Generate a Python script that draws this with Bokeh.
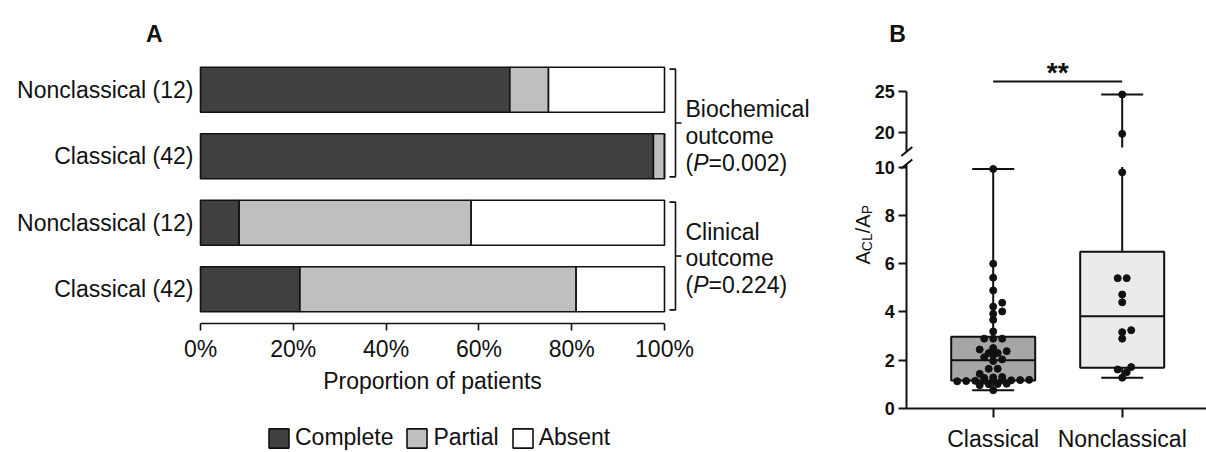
import numpy as np
from bokeh.plotting import figure
from bokeh.models import ColumnDataSource, Range1d, LinearAxis, FixedTicker, NumeralTickFormatter
from bokeh.layouts import row
from bokeh.embed import file_html
from bokeh.resources import INLINE
from bokeh.core.properties import value

# ---------------- data ----------------
# Panel A, rows listed from bottom to top
row_labels = ["Classical (42)", "Nonclassical (12)", "Classical (42)", "Nonclassical (12)"]
complete_n = [9, 1, 41, 8]
partial_n = [25, 6, 1, 1]
absent_n = [8, 5, 0, 3]
stack_names = ["Complete", "Partial", "Absent"]
outcome_words = [["Clinical", "outcome"], ["Biochemical", "outcome"]]
outcome_p = ["0.224", "0.002"]
outcome_rows = [(0, 1), (2, 3)]
pct_ticks = [0, 0.2, 0.4, 0.6, 0.8, 1.0]

# Panel B
groups = ["Classical", "Nonclassical"]
classical_vals = [9.93, 6.00, 5.42, 4.89, 4.38, 4.22, 4.02, 3.92, 3.67, 3.19,
                  2.89, 2.89, 2.89, 2.50, 2.44, 2.37, 2.29, 2.29, 2.22, 2.12, 2.03,
                  1.96, 1.64, 1.64, 1.43, 1.30, 1.28, 1.26, 1.18, 1.17, 1.16, 1.16,
                  1.15, 1.15, 1.14, 1.13, 1.12, 1.02, 1.01, 1.00, 0.96, 0.75]
nonclassical_vals = [24.6, 19.8, 9.79, 5.40, 5.40, 4.72, 4.40, 3.24, 3.16, 2.89,
                     1.71, 1.61, 1.50, 1.27]
low_ticks = [0, 2, 4, 6, 8, 10]
high_ticks = [20, 25]
signif_text = "**"

# ---------------- style ----------------
FONT = "Liberation Sans"
INK = "#111111"
FS = "23px"
bar_fills = ["#404040", "#bfbfbf", "#ffffff"]
box_fills = ["#a6a6a6", "#ebebeb"]
W_A, W_B, H = 853, 353, 452

# ================= Panel A =================
def xa(px):
    return (px - 200.0) / 464.0

def ya(py):
    return (288.8 - py) / 66.53

pA = figure(width=W_A, height=H, x_range=Range1d(xa(0), xa(W_A)),
            y_range=Range1d(ya(H), ya(0)), output_backend="svg",
            toolbar_location=None, min_border=0, y_axis_type=None)
pA.outline_line_color = None
pA.grid.visible = False

cn = np.array(complete_n, float)
pn = np.array(partial_n, float)
an = np.array(absent_n, float)
tot = cn + pn + an
srcA = ColumnDataSource(dict(pos=list(range(len(row_labels))),
                             Complete=cn / tot, Partial=pn / tot, Absent=an / tot))
pA.hbar_stack(stack_names, y="pos", height=45 / 66.53, source=srcA,
              fill_color=bar_fills, line_color=INK, line_width=1.6,
              legend_label=stack_names)

pA.text(x=[xa(193)] * len(row_labels), y=list(range(len(row_labels))), text=row_labels,
        text_align="right", text_baseline="middle", text_font=value(FONT),
        text_font_size=FS, text_color=INK)

# brackets + outcome text
first_line_py = [231.0, 108.5]
line_gap = 26.8
bx_l, bx_v, bx_r, tx = xa(669), xa(675), xa(681), xa(685)
fs_num = 23.0
for k, (lo, hi) in enumerate(outcome_rows):
    yt, yb = hi + 0.31, lo - 0.31
    ym = (yt + yb) / 2
    pA.multi_line(xs=[[bx_l, bx_v, bx_v, bx_l], [bx_v, bx_r]],
                  ys=[[yt, yt, yb, yb], [ym, ym]], line_color=INK, line_width=1.6)
    for j, w in enumerate(outcome_words[k]):
        pA.text(x=[tx], y=[ya(first_line_py[k] + j * line_gap)], text=[w],
                text_align="left", text_baseline="middle", text_font=value(FONT),
                text_font_size=FS, text_color=INK)
    yp = ya(first_line_py[k] + 2 * line_gap)
    pA.text(x=[tx], y=[yp], text=["("], text_align="left", text_baseline="middle",
            text_font=value(FONT), text_font_size=FS, text_color=INK)
    pA.text(x=[xa(685 + 0.333 * fs_num)], y=[yp], text=["P"], text_align="left",
            text_baseline="middle", text_font=value(FONT), text_font_size=FS,
            text_font_style="italic", text_color=INK)
    pA.text(x=[xa(685 + 1.0 * fs_num)], y=[yp], text=["=" + outcome_p[k] + ")"],
            text_align="left", text_baseline="middle", text_font=value(FONT),
            text_font_size=FS, text_color=INK)

pA.text(x=[xa(153.7)], y=[ya(33.3)], text=["A"], text_align="center",
        text_baseline="middle", text_font=value(FONT), text_font_size="23px",
        text_font_style="bold", text_color=INK)

xax = pA.xaxis[0]
xax.fixed_location = ya(323)
xax.bounds = (0, 1)
xax.ticker = FixedTicker(ticks=pct_ticks)
xax.formatter = NumeralTickFormatter(format="0%")
xax.minor_tick_line_color = None
xax.major_tick_in = 0
xax.major_tick_out = 7
xax.axis_line_width = 1.6
xax.major_tick_line_width = 1.6
xax.axis_line_color = INK
xax.major_tick_line_color = INK
xax.major_label_text_font = FONT
xax.major_label_text_font_size = FS
xax.major_label_text_color = INK
xax.major_label_standoff = 5
xax.axis_label = "Proportion of patients"
xax.axis_label_text_font = FONT
xax.axis_label_text_font_size = FS
xax.axis_label_text_font_style = "normal"
xax.axis_label_text_color = INK
xax.axis_label_standoff = 3

lg = pA.legend[0]
lg.location = (266, 1)
lg.orientation = "horizontal"
lg.label_text_font = FONT
lg.label_text_font_size = FS
lg.label_text_color = INK
lg.glyph_width = 25
lg.glyph_height = 24
lg.label_height = 24
lg.label_standoff = 4
lg.spacing = 11
lg.padding = 0
lg.margin = 0
lg.border_line_color = None
lg.background_fill_alpha = 0

# ================= Panel B =================
PPU_X, PPU_LOW, PPU_HIGH = 129.0, 24.1, 8.2
X0_B = W_A

def xb(px):
    return (px - 992.7) / PPU_X

def yl(py):
    return (407.8 - py) / PPU_LOW

def yh(py):
    return 20.0 + (131.7 - py) / PPU_HIGH

pB = figure(width=W_B, height=H, x_range=Range1d(xb(X0_B), xb(X0_B + W_B)),
            y_range=Range1d(yl(H), yl(0)), output_backend="svg",
            toolbar_location=None, min_border=0)
pB.extra_y_ranges = {"top": Range1d(yh(H), yh(0))}
pB.outline_line_color = None
pB.grid.visible = False

LOW_AX = yl(163.5)
TOP_AX = yh(151.0)
LOW_CLIP = yl(166.5)
TOP_CLIP = yh(147.0)
AX_X = xb(906.3)

def style_axis(ax):
    ax.axis_line_width = 2
    ax.major_tick_line_width = 2
    ax.axis_line_color = INK
    ax.major_tick_line_color = INK
    ax.minor_tick_line_color = None
    ax.major_tick_in = 0

def style_yaxis(ax):
    style_axis(ax)
    ax.fixed_location = AX_X
    ax.major_tick_out = 8
    ax.major_label_standoff = 4
    ax.major_label_text_font = FONT
    ax.major_label_text_font_size = "18px"
    ax.major_label_text_font_style = "bold"
    ax.major_label_text_color = INK

ly = pB.yaxis[0]
style_yaxis(ly)
ly.bounds = (0, LOW_AX)
ly.ticker = FixedTicker(ticks=low_ticks)

hy = LinearAxis(y_range_name="top")
style_yaxis(hy)
hy.bounds = (TOP_AX, max(high_ticks))
hy.ticker = FixedTicker(ticks=high_ticks)
pB.add_layout(hy, "left")

bx = pB.xaxis[0]
style_axis(bx)
bx.fixed_location = 0
bx.bounds = (AX_X, xb(X0_B + W_B))
bx.ticker = FixedTicker(ticks=list(range(len(groups))))
bx.major_label_overrides = {i: g for i, g in enumerate(groups)}
bx.major_tick_out = 9
bx.major_label_standoff = 9
bx.major_label_text_font = FONT
bx.major_label_text_font_size = FS
bx.major_label_text_color = INK

# axis break marks
sdx = 5.5 / PPU_X
pB.segment(x0=[AX_X - sdx], y0=[LOW_AX - 4.5 / PPU_LOW], x1=[AX_X + sdx],
           y1=[LOW_AX + 4.5 / PPU_LOW], line_color=INK, line_width=2)
pB.segment(x0=[AX_X - sdx], y0=[TOP_AX - 4.5 / PPU_HIGH], x1=[AX_X + sdx],
           y1=[TOP_AX + 4.5 / PPU_HIGH], line_color=INK, line_width=2, y_range_name="top")


def box_stats(v):
    v = np.asarray(v, float)
    q1, med, q3 = np.percentile(v, [25, 50, 75], method="weibull")
    return v.min(), q1, med, q3, v.max()


def swarm_offsets(vals, step=9.0, gap=0.06, min_d=6.0):
    """Rows of (near) equal values are spread symmetrically; single points are
    nudged sideways so they do not sit on top of their neighbours."""
    v = np.asarray(vals, float)
    order = list(np.argsort(v, kind="stable"))
    clusters = []
    for idx in order:
        if clusters and v[idx] - v[clusters[-1][-1]] <= gap:
            clusters[-1].append(idx)
        else:
            clusters.append([idx])
    out = np.zeros(len(v))
    placed = []
    cands = [0.0]
    for m in range(1, 6):
        cands += [m * step / 2, -m * step / 2]
    for cl in clusters:
        n = len(cl)
        if n > 1:
            for k, idx in enumerate(cl):
                out[idx] = (k - (n - 1) / 2) * step
                placed.append((out[idx], v[idx] * PPU_LOW))
        else:
            idx = cl[0]
            yv = v[idx] * PPU_LOW
            best, best_d = 0.0, -1.0
            for c in cands:
                d = min([np.hypot(c - px, yv - py) for px, py in placed] + [1e9])
                if d >= min_d:
                    best = c
                    break
                if d > best_d:
                    best, best_d = c, d
            out[idx] = best
            placed.append((best, yv))
    return out / PPU_X


HALF_BOX = 42.0 / PPU_X
HALF_CAP = 21.0 / PPU_X
all_vals = [classical_vals, nonclassical_vals]

for i, vals in enumerate(all_vals):
    lo, q1, med, q3, hi = box_stats(vals)
    pB.segment(x0=[i], y0=[lo], x1=[i], y1=[q1], line_color=INK, line_width=2)
    pB.segment(x0=[i - HALF_CAP], y0=[lo], x1=[i + HALF_CAP], y1=[lo], line_color=INK, line_width=2)
    if hi <= LOW_AX:
        pB.segment(x0=[i], y0=[q3], x1=[i], y1=[hi], line_color=INK, line_width=2)
        pB.segment(x0=[i - HALF_CAP], y0=[hi], x1=[i + HALF_CAP], y1=[hi], line_color=INK, line_width=2)
    else:
        pB.segment(x0=[i], y0=[q3], x1=[i], y1=[LOW_CLIP], line_color=INK, line_width=2)
        pB.segment(x0=[i], y0=[TOP_CLIP], x1=[i], y1=[hi], line_color=INK, line_width=2,
                   y_range_name="top")
        pB.segment(x0=[i - HALF_CAP], y0=[hi], x1=[i + HALF_CAP], y1=[hi], line_color=INK,
                   line_width=2, y_range_name="top")
    pB.quad(left=[i - HALF_BOX], right=[i + HALF_BOX], bottom=[q1], top=[q3],
            fill_color=box_fills[i], line_color=INK, line_width=2)
    pB.segment(x0=[i - HALF_BOX], y0=[med], x1=[i + HALF_BOX], y1=[med], line_color=INK, line_width=2)

for i, vals in enumerate(all_vals):
    v = np.asarray(vals, float)
    offs = swarm_offsets(v)
    low_mask = v <= LOW_AX
    pB.scatter(x=(i + offs[low_mask]).tolist(), y=v[low_mask].tolist(), size=7,
               fill_color=INK, line_color=INK)
    if (~low_mask).any():
        pB.scatter(x=(i + offs[~low_mask]).tolist(), y=v[~low_mask].tolist(), size=7,
                   fill_color=INK, line_color=INK, y_range_name="top")

# significance bar
pB.segment(x0=[0], y0=[yh(81)], x1=[1], y1=[yh(81)], line_color=INK, line_width=2,
           y_range_name="top")
pB.text(x=[0.5], y=[yh(72)], text=[signif_text], text_align="center",
        text_baseline="alphabetic", text_font=value(FONT), text_font_size="28px",
        text_font_style="bold", text_color=INK, y_range_name="top")

# rotated y label  A_CL / A_P
pieces = [("A", 20, False), ("CL", 14, True), ("/", 20, False), ("A", 20, False), ("P", 14, True)]
adv = {"A": 0.667, "C": 0.722, "L": 0.556, "/": 0.278, "P": 0.667}
ypos = 264.0
for txt, fs, sub in pieces:
    xpx = 866.0 if sub else 862.0
    pB.text(x=[xb(xpx)], y=[yl(ypos)], text=[txt], angle=np.pi / 2, text_align="left",
            text_baseline="alphabetic", text_font=value(FONT), text_font_size=f"{fs}px",
            text_color=INK)
    ypos -= sum(adv[c] for c in txt) * fs

pB.text(x=[xb(897)], y=[yl(33.3)], text=["B"], text_align="center", text_baseline="middle",
        text_font=value(FONT), text_font_size="23px", text_font_style="bold", text_color=INK)

layout = row(pA, pB)
open("out.html", "w").write(file_html(layout, INLINE))
